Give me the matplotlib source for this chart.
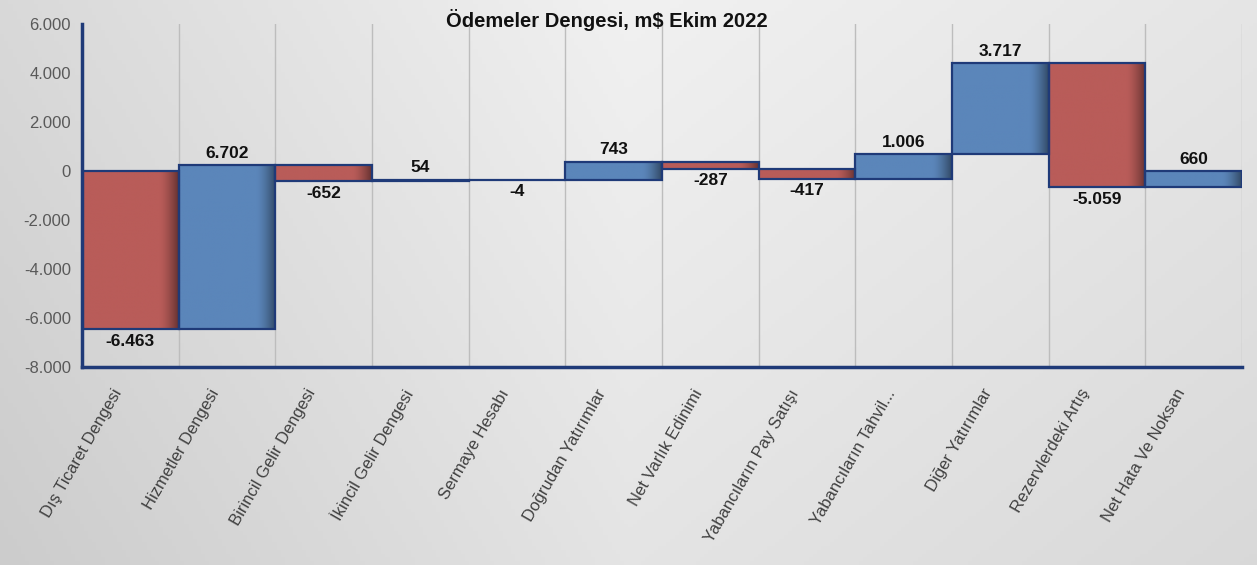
import numpy as np
import matplotlib.pyplot as plt
import matplotlib.transforms as mtransforms
from matplotlib.colors import to_rgb

# data
categories = ["Dış Ticaret Dengesi", "Hizmetler Dengesi", "Birincil Gelir Dengesi",
              "İkincil Gelir Dengesi", "Sermaye Hesabı", "Doğrudan Yatırımlar",
              "Net Varlık Edinimi", "Yabancıların Pay Satışı", "Yabancıların Tahvil...",
              "Diğer Yatırımlar", "Rezervlerdeki Artış", "Net Hata Ve Noksan"]
values = [-6463, 6702, -652, 54, -4, 743, -287, -417, 1006, 3717, -5059, 660]
labels = ["-6.463", "6.702", "-652", "54", "-4", "743", "-287", "-417",
          "1.006", "3.717", "-5.059", "660"]
y_ticks = [-8000, -6000, -4000, -2000, 0, 2000, 4000, 6000]
y_tick_labels = ["-8.000", "-6.000", "-4.000", "-2.000", "0", "2.000", "4.000", "6.000"]

RED = "#B95C59"
BLUE = "#5B86BA"
EDGE = "#1F3A78"

plt.rcParams['font.family'] = ['Liberation Sans', 'DejaVu Sans']

fig = plt.figure(figsize=(12.57, 5.65), dpi=100)

# background gradient (darker left/bottom, lighter top-middle)
bg = fig.add_axes([0, 0, 1, 1], zorder=-10)
gx = np.linspace(0, 1, 300)
gy = np.linspace(0, 1, 150)
X, Y = np.meshgrid(gx, gy)
shade = 0.80 + 0.10 * (0.5 * X + 0.5 * Y) + 0.07 * np.clip(1 - np.abs(X - 0.5) * 2, 0, 1)
shade = np.clip(shade, 0, 0.97)
bg.imshow(np.dstack([shade, shade, shade]), origin='lower', aspect='auto', extent=[0, 1, 0, 1])
bg.set_axis_off()

ax = fig.add_axes([0.0652, 0.3504, 0.9228, 0.6071])
ax.patch.set_alpha(0)

n = len(values)
cum = np.concatenate([[0], np.cumsum(values)])

for i, v in enumerate(values):
    lo, hi = sorted([cum[i], cum[i + 1]])
    base = np.array(to_rgb(RED if v < 0 else BLUE))
    # shading: darker band near the right edge
    t = np.linspace(0, 1, 100)
    dark = np.clip((t - 0.8) / 0.2, 0, 1) ** 1.5 * 0.45
    row = base[None, :] * (1 - dark[:, None])
    img = np.repeat(row[None, :, :], 2, axis=0)
    ax.imshow(img, extent=[i, i + 1, lo, hi], aspect='auto', zorder=2, interpolation='bilinear')
    ax.add_patch(plt.Rectangle((i, lo), 1, hi - lo, fill=False, edgecolor=EDGE, lw=1.6, zorder=3))
    if v >= 0:
        ax.text(i + 0.5, hi + 180, labels[i], ha='center', va='bottom', fontsize=12.5,
                fontweight='bold', color='#111111', zorder=4)
    else:
        ax.text(i + 0.5, lo - 180, labels[i], ha='center', va='top', fontsize=12.5,
                fontweight='bold', color='#111111', zorder=4)

ax.set_aspect('auto')
ax.set_xlim(0, n)
ax.set_ylim(-8000, 6000)

for b in range(1, n + 1):
    ax.axvline(b, color='#BDBDBD', lw=1, zorder=1)

ax.set_yticks(y_ticks)
ax.set_yticklabels(y_tick_labels, fontsize=12, color='#595959')
ax.set_xticks(np.arange(n) + 0.5)
ax.set_xticklabels(categories, rotation=60, ha='right', rotation_mode='anchor',
                   fontsize=12, color='#404040')
ax.tick_params(axis='both', length=0, pad=8)
ax.tick_params(axis='x', pad=14)
shift = mtransforms.ScaledTranslation(-18 / 100, 0, fig.dpi_scale_trans)
for lab in ax.get_xticklabels():
    lab.set_transform(lab.get_transform() + shift)

for s in ['top', 'right']:
    ax.spines[s].set_visible(False)
for s in ['left', 'bottom']:
    ax.spines[s].set_color(EDGE)
    ax.spines[s].set_linewidth(2.5)

fig.text(0.483, 0.965, "Ödemeler Dengesi, m$ Ekim 2022", ha='center', va='center',
         fontsize=14.5, fontweight='bold', color='#111111')

fig.savefig("out.png", dpi=100)
